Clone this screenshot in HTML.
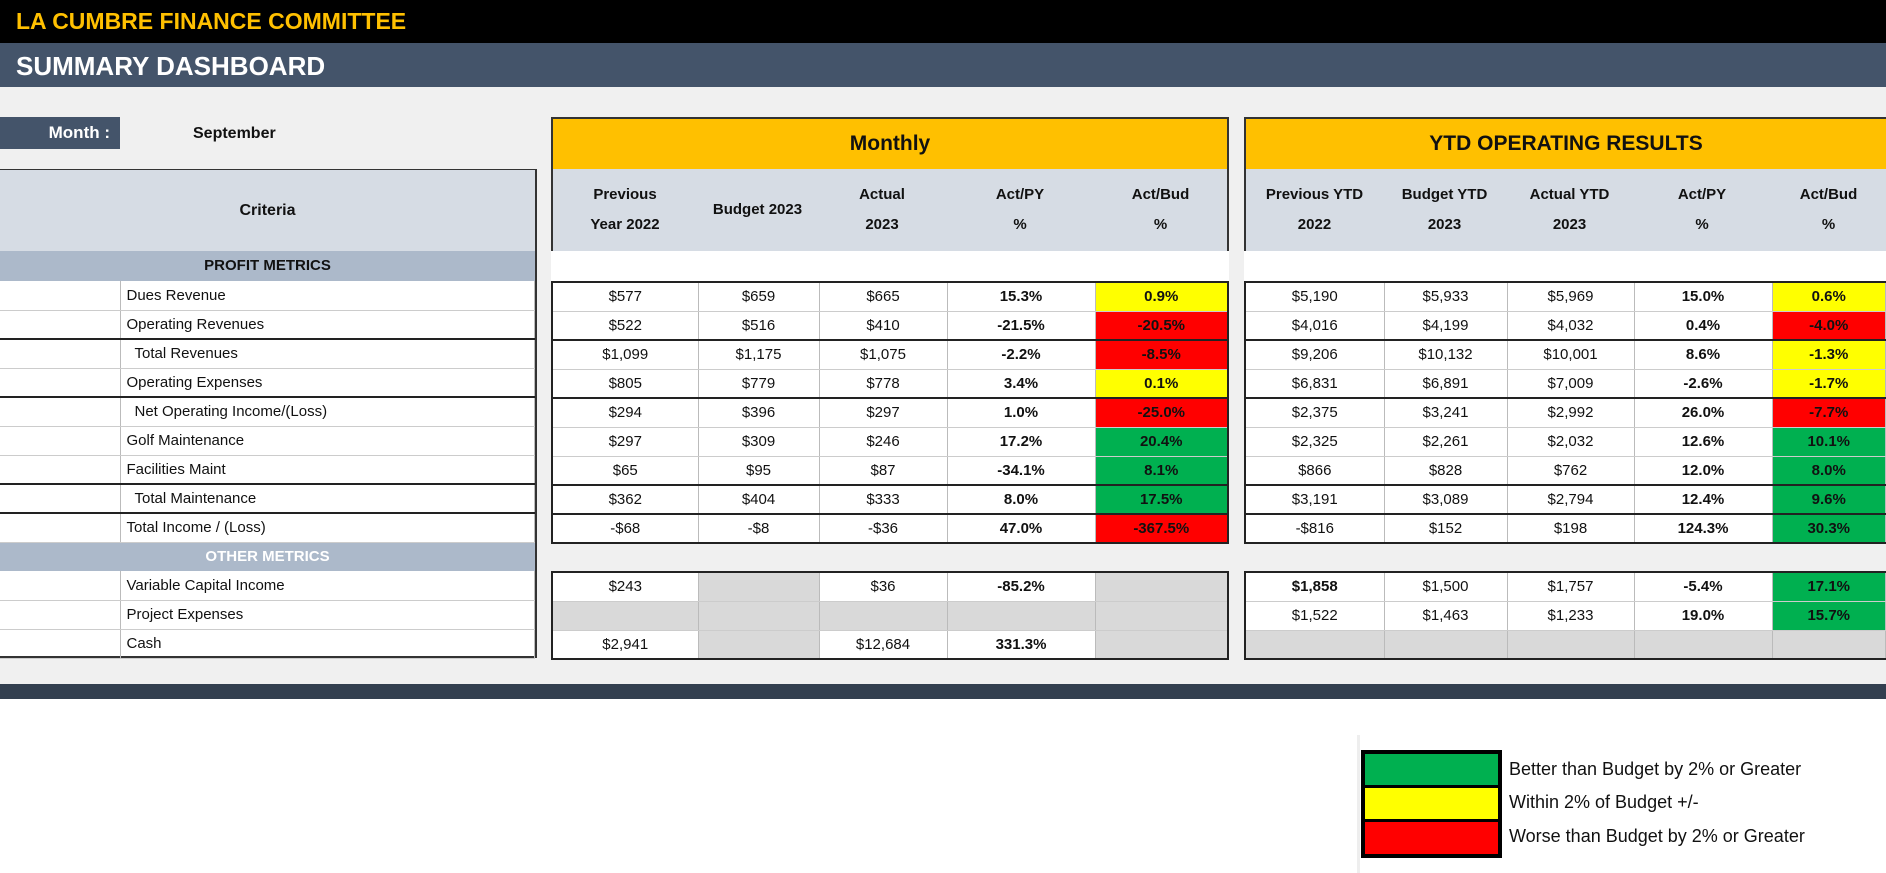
<!DOCTYPE html>
<html><head><meta charset="utf-8"><style>
*{margin:0;padding:0;box-sizing:border-box}
body{width:1886px;height:873px;background:#fff;font-family:"Liberation Sans Narrow","Liberation Sans",sans-serif;position:relative;overflow:hidden;color:#111}
.a{position:absolute}
table{border-collapse:collapse;table-layout:fixed;position:absolute}
td{height:29px;text-align:center;font-size:15px;border-right:1px solid #bbb;border-bottom:1px solid #ccc;white-space:nowrap;overflow:hidden}
td.b{font-weight:bold}
tr.t td{border-top:2px solid #222}
.Y{background:#ffff00;font-weight:bold}.R{background:#ff0000;font-weight:bold}.G{background:#00b050;font-weight:bold}.g{background:#d9d9d9}
.hd{background:#d6dce4;font-weight:bold;font-size:15px;line-height:30px;text-align:center;display:flex;align-items:center;justify-content:center}
.or{background:#ffc000;font-weight:bold;font-size:21px;display:flex;align-items:center;justify-content:center}
</style></head><body>
<div class="a" style="left:0;top:0;width:1886px;height:43px;background:#000"></div>
<div class="a" style="left:16px;top:8px;color:#ffc000;font-weight:bold;font-size:23px">LA CUMBRE FINANCE COMMITTEE</div>
<div class="a" style="left:0;top:43px;width:1886px;height:44px;background:#44546a"></div>
<div class="a" style="left:16px;top:51px;color:#fff;font-weight:bold;font-size:26px">SUMMARY DASHBOARD</div>
<div class="a" style="left:0;top:87px;width:1886px;height:597px;background:#f0f0f0"></div>
<div class="a" style="left:0;top:684px;width:1886px;height:15px;background:#333f4f"></div>

<div class="a" style="left:0;top:117px;width:120px;height:32px;background:#44546a;color:#fff;font-weight:bold;font-size:17px;line-height:32px;text-align:right;padding-right:10px">Month :</div>
<div class="a" style="left:193px;top:125px;font-weight:bold;font-size:16px">September</div>

<div class="a" style="left:0;top:169px;width:537px;height:489px;border:2px solid #333;border-left:none;background:#fff"></div>
<div class="a hd" style="left:0;top:170px;width:535px;height:81px;font-size:16px">Criteria</div>
<div class="a" style="left:0;top:251px;width:535px;height:30px;background:#acb9ca;font-weight:bold;font-size:15px;text-align:center;line-height:30px">PROFIT METRICS</div>
<div class="a" style="left:0;top:542px;width:535px;height:29px;background:#acb9ca;color:#fff;font-weight:bold;font-size:15px;text-align:center;line-height:29px">OTHER METRICS</div>
<table style="left:0;top:281px;width:535px">
<col style="width:120px"><col>
<tr><td></td><td style="text-align:left;padding-left:6px">Dues Revenue</td></tr>
<tr><td></td><td style="text-align:left;padding-left:6px">Operating Revenues</td></tr>
<tr class="t"><td></td><td style="text-align:left;padding-left:14px">Total Revenues</td></tr>
<tr><td></td><td style="text-align:left;padding-left:6px">Operating Expenses</td></tr>
<tr class="t"><td></td><td style="text-align:left;padding-left:14px">Net Operating Income/(Loss)</td></tr>
<tr><td></td><td style="text-align:left;padding-left:6px">Golf Maintenance</td></tr>
<tr><td></td><td style="text-align:left;padding-left:6px">Facilities Maint</td></tr>
<tr class="t"><td></td><td style="text-align:left;padding-left:14px">Total Maintenance</td></tr>
<tr class="t"><td></td><td style="text-align:left;padding-left:6px">Total Income / (Loss)</td></tr>
</table>
<table style="left:0;top:571px;width:535px">
<col style="width:120px"><col>
<tr><td></td><td style="text-align:left;padding-left:6px">Variable Capital Income</td></tr>
<tr><td></td><td style="text-align:left;padding-left:6px">Project Expenses</td></tr>
<tr><td></td><td style="text-align:left;padding-left:6px">Cash</td></tr>
</table>

<div class="a" style="left:551px;top:117px;width:678px;height:135px;border:2px solid #333;border-bottom:none"></div>
<div class="a or" style="left:553px;top:119px;width:674px;height:50px">Monthly</div>
<div class="a" style="left:553px;top:169px;width:674px;height:82px;background:#d6dce4;display:flex">
<div class="hd" style="width:144px">Previous<br>Year 2022</div><div class="hd" style="width:121px">Budget 2023</div><div class="hd" style="width:128px">Actual<br>2023</div><div class="hd" style="width:148px">Act/PY<br>%</div><div class="hd" style="width:133px">Act/Bud<br>%</div></div>
<div class="a" style="left:551px;top:251px;width:678px;height:30px;background:#fff"></div>
<table style="left:551px;top:281px;width:678px;border:2px solid #222;background:#fff">
<col style="width:146px"><col style="width:121px"><col style="width:128px"><col style="width:148px"><col>
<tr><td>$577</td><td>$659</td><td>$665</td><td class="b">15.3%</td><td class="Y">0.9%</td></tr>
<tr><td>$522</td><td>$516</td><td>$410</td><td class="b">-21.5%</td><td class="R">-20.5%</td></tr>
<tr class="t"><td>$1,099</td><td>$1,175</td><td>$1,075</td><td class="b">-2.2%</td><td class="R">-8.5%</td></tr>
<tr><td>$805</td><td>$779</td><td>$778</td><td class="b">3.4%</td><td class="Y">0.1%</td></tr>
<tr class="t"><td>$294</td><td>$396</td><td>$297</td><td class="b">1.0%</td><td class="R">-25.0%</td></tr>
<tr><td>$297</td><td>$309</td><td>$246</td><td class="b">17.2%</td><td class="G">20.4%</td></tr>
<tr><td>$65</td><td>$95</td><td>$87</td><td class="b">-34.1%</td><td class="G">8.1%</td></tr>
<tr class="t"><td>$362</td><td>$404</td><td>$333</td><td class="b">8.0%</td><td class="G">17.5%</td></tr>
<tr class="t"><td>-$68</td><td>-$8</td><td>-$36</td><td class="b">47.0%</td><td class="R">-367.5%</td></tr>
</table>
<table style="left:551px;top:571px;width:678px;border:2px solid #222;background:#fff">
<col style="width:146px"><col style="width:121px"><col style="width:128px"><col style="width:148px"><col>
<tr><td>$243</td><td class="g"></td><td>$36</td><td class="b">-85.2%</td><td class="g"></td></tr>
<tr><td class="g"></td><td class="g"></td><td class="g"></td><td class="g"></td><td class="g"></td></tr>
<tr><td>$2,941</td><td class="g"></td><td>$12,684</td><td class="b">331.3%</td><td class="g"></td></tr>
</table>

<div class="a" style="left:1244px;top:117px;width:642px;height:135px;border:2px solid #333;border-bottom:none;border-right:none"></div>
<div class="a or" style="left:1246px;top:119px;width:640px;height:50px">YTD OPERATING RESULTS</div>
<div class="a" style="left:1246px;top:169px;width:640px;height:82px;background:#d6dce4;display:flex">
<div class="hd" style="width:137px">Previous YTD<br>2022</div><div class="hd" style="width:123px">Budget YTD<br>2023</div><div class="hd" style="width:127px">Actual YTD<br>2023</div><div class="hd" style="width:138px">Act/PY<br>%</div><div class="hd" style="width:115px">Act/Bud<br>%</div></div>
<div class="a" style="left:1244px;top:251px;width:642px;height:30px;background:#fff"></div>
<table style="left:1244px;top:281px;width:642px;border:2px solid #222;border-right:none;background:#fff">
<col style="width:139px"><col style="width:123px"><col style="width:127px"><col style="width:138px"><col>
<tr><td>$5,190</td><td>$5,933</td><td>$5,969</td><td class="b">15.0%</td><td class="Y">0.6%</td></tr>
<tr><td>$4,016</td><td>$4,199</td><td>$4,032</td><td class="b">0.4%</td><td class="R">-4.0%</td></tr>
<tr class="t"><td>$9,206</td><td>$10,132</td><td>$10,001</td><td class="b">8.6%</td><td class="Y">-1.3%</td></tr>
<tr><td>$6,831</td><td>$6,891</td><td>$7,009</td><td class="b">-2.6%</td><td class="Y">-1.7%</td></tr>
<tr class="t"><td>$2,375</td><td>$3,241</td><td>$2,992</td><td class="b">26.0%</td><td class="R">-7.7%</td></tr>
<tr><td>$2,325</td><td>$2,261</td><td>$2,032</td><td class="b">12.6%</td><td class="G">10.1%</td></tr>
<tr><td>$866</td><td>$828</td><td>$762</td><td class="b">12.0%</td><td class="G">8.0%</td></tr>
<tr class="t"><td>$3,191</td><td>$3,089</td><td>$2,794</td><td class="b">12.4%</td><td class="G">9.6%</td></tr>
<tr class="t"><td>-$816</td><td>$152</td><td>$198</td><td class="b">124.3%</td><td class="G">30.3%</td></tr>
</table>
<table style="left:1244px;top:571px;width:642px;border:2px solid #222;border-right:none;background:#fff">
<col style="width:139px"><col style="width:123px"><col style="width:127px"><col style="width:138px"><col>
<tr><td class="b">$1,858</td><td>$1,500</td><td>$1,757</td><td class="b">-5.4%</td><td class="G">17.1%</td></tr>
<tr><td>$1,522</td><td>$1,463</td><td>$1,233</td><td class="b">19.0%</td><td class="G">15.7%</td></tr>
<tr><td class="g"></td><td class="g"></td><td class="g"></td><td class="g"></td><td class="g"></td></tr>
</table>

<div class="a" style="left:1357px;top:735px;width:3px;height:138px;background:#eee"></div>
<div class="a" style="left:1361px;top:750px;width:141px;height:108px;background:#000"></div>
<div class="a" style="left:1365px;top:754px;width:133px;height:31px;background:#00b050"></div>
<div class="a" style="left:1365px;top:788px;width:133px;height:31px;background:#ffff00"></div>
<div class="a" style="left:1365px;top:822px;width:133px;height:32px;background:#ff0000"></div>
<div class="a" style="left:1509px;top:759px;font-size:18px">Better than Budget by 2% or Greater</div>
<div class="a" style="left:1509px;top:792px;font-size:18px">Within 2% of Budget +/-</div>
<div class="a" style="left:1509px;top:826px;font-size:18px">Worse than Budget by 2% or Greater</div>
</body></html>
